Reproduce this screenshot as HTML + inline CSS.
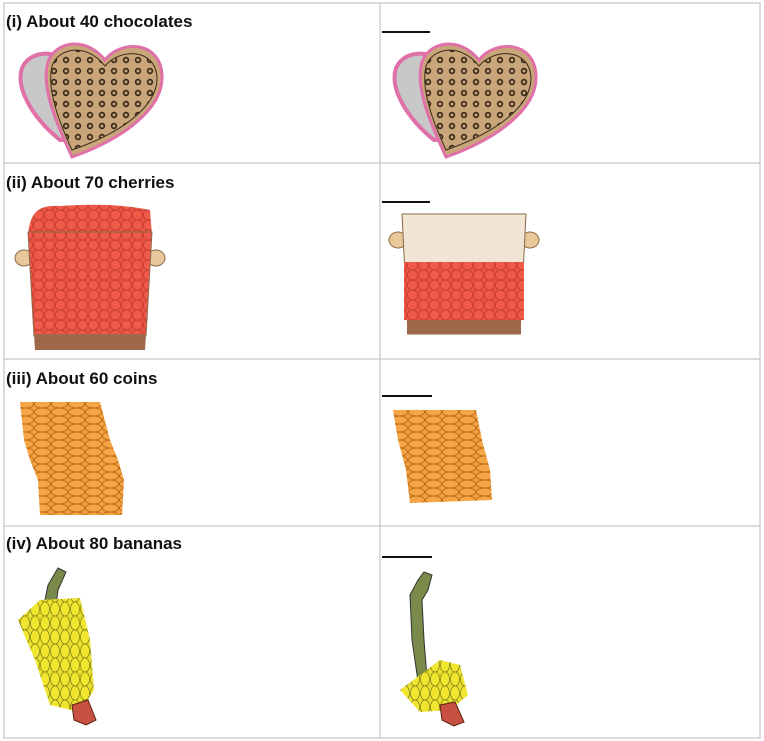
<!DOCTYPE html>
<html><head><meta charset="utf-8"><style>
body{margin:0;background:#fff;width:764px;height:741px;overflow:hidden}
svg{display:block}
text{font-family:"Liberation Sans",sans-serif;font-weight:bold;font-size:17px;fill:#111}
</style></head><body>
<svg width="764" height="741" viewBox="0 0 764 741">
<defs>
<pattern id="dots" width="12" height="11" patternUnits="userSpaceOnUse">
<rect width="12" height="11" fill="#c9a57a"/>
<circle cx="6" cy="5" r="3.2" fill="#3a2a1a"/><circle cx="6" cy="5" r="1.5" fill="#c9a57a"/>
</pattern>
<pattern id="coins" width="17" height="8" patternUnits="userSpaceOnUse">
<rect width="17" height="8" fill="#f0a040"/>
<ellipse cx="8.5" cy="4" rx="8" ry="4" fill="#f5a544" stroke="#b06010" stroke-width="0.8"/>
</pattern>
<pattern id="cher" width="11" height="10" patternUnits="userSpaceOnUse">
<rect width="11" height="10" fill="#e85444"/>
<circle cx="5.5" cy="5" r="5" fill="#ef5a4a" stroke="#c03a2a" stroke-width="0.7"/>
</pattern>
<pattern id="ban" width="10" height="14" patternUnits="userSpaceOnUse">
<rect width="10" height="14" fill="#e8e030"/>
<ellipse cx="5" cy="7" rx="4.5" ry="7" fill="#f0e630" stroke="#6a6a10" stroke-width="0.6"/>
</pattern>
<g id="heart">
<path d="M60,140 C35,120 15,90 22,68 C30,50 55,50 70,62 L90,55 L100,140 Z" fill="#c8c8c8" stroke="#e070a8" stroke-width="4"/>
<path d="M72,157 C60,130 40,90 48,62 C55,42 85,35 105,60 C120,40 160,40 162,75 C164,110 120,140 72,157 Z" fill="#c9a57a" stroke="#e070a8" stroke-width="3"/>
<path d="M72,150 C62,128 46,92 52,66 C58,48 86,42 105,66 C120,48 155,48 157,77 C158,108 118,134 72,150 Z" fill="url(#dots)" stroke="#3a2a1a" stroke-width="1"/>
</g>
</defs>
<g stroke="#c8c8c8" stroke-width="1.3" fill="none">
<rect x="4" y="3" width="756" height="735"/>
<line x1="380" y1="3" x2="380" y2="738"/>
<line x1="4" y1="163" x2="760" y2="163"/>
<line x1="4" y1="359" x2="760" y2="359"/>
<line x1="4" y1="526" x2="760" y2="526"/>
</g>
<text x="6" y="27">(i) About 40 chocolates</text>
<text x="6" y="188">(ii) About 70 cherries</text>
<text x="6" y="384">(iii) About 60 coins</text>
<text x="6" y="549">(iv) About 80 bananas</text>
<g stroke="#111" stroke-width="2">
<line x1="382" y1="32" x2="430" y2="32"/>
<line x1="382" y1="202" x2="430" y2="202"/>
<line x1="382" y1="396" x2="432" y2="396"/>
<line x1="382" y1="557" x2="432" y2="557"/>
</g>
<use href="#heart"/>
<use href="#heart" x="374"/>
<ellipse cx="24" cy="258" rx="9" ry="8" fill="#e8c89a" stroke="#8a6a4a"/>
<ellipse cx="156" cy="258" rx="9" ry="8" fill="#e8c89a" stroke="#8a6a4a"/>
<path d="M28,236 C30,210 40,205 60,206 C90,204 120,204 150,210 L152,236 Z" fill="url(#cher)"/>
<path d="M28,232 L152,232 L146,336 L34,336 Z" fill="url(#cher)" stroke="#8a6a4a"/>
<path d="M34,334 L146,334 L145,350 L35,350 Z" fill="#a0684a"/>
<ellipse cx="398" cy="240" rx="9" ry="8" fill="#e8c89a" stroke="#8a6a4a"/>
<ellipse cx="530" cy="240" rx="9" ry="8" fill="#e8c89a" stroke="#8a6a4a"/>
<path d="M402,214 L526,214 L520,334 L408,334 Z" fill="#f1e6d6" stroke="#8a6a4a"/>
<rect x="404" y="262" width="120" height="58" fill="url(#cher)"/>
<rect x="407" y="320" width="114" height="14" fill="#a0684a"/>
<path d="M20,402 L100,402 L110,440 L118,460 L124,480 L122,515 L40,515 L38,480 L30,460 L24,440 Z" fill="url(#coins)"/>
<path d="M393,410 L476,410 L482,440 L490,470 L492,500 L410,503 L406,470 L398,440 Z" fill="url(#coins)"/>
<path d="M58,568 L66,572 L58,590 L56,605 L44,605 L48,585 Z" fill="#7a8a4a" stroke="#333"/>
<path d="M40,600 L80,598 L90,640 L94,690 L80,712 L50,705 L35,660 L18,620 Z" fill="url(#ban)"/>
<path d="M72,705 L88,700 L96,720 L86,725 L74,720 Z" fill="#c85040" stroke="#5a2010"/>
<path d="M424,572 L432,575 L428,590 L422,600 L424,640 L428,690 L420,695 L412,640 L410,595 L418,580 Z" fill="#7a8a4a" stroke="#333"/>
<path d="M400,690 L440,660 L460,665 L468,695 L450,710 L420,712 Z" fill="url(#ban)"/>
<path d="M440,705 L455,702 L464,722 L454,726 L442,720 Z" fill="#c85040" stroke="#5a2010"/>
</svg>
</body></html>
